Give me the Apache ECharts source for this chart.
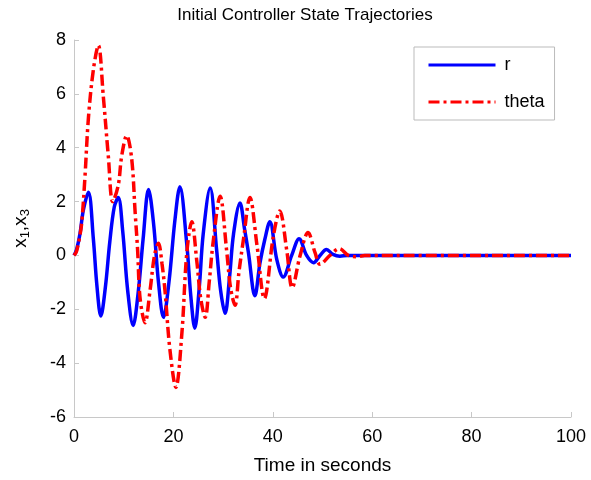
<!DOCTYPE html>
<html>
<head>
<meta charset="utf-8">
<script src="https://cdn.jsdelivr.net/npm/echarts@6/dist/echarts.min.js"></script>
<style>
    html,body{margin:0;padding:0;background:#fff;}
    #chart{width:591px;height:480px;}
</style>
</head>
<body>
<div id="chart"></div>
<script>
    // r trajectory (time, value)
    const rTime = [0,0.5,1.2,1.9,2.9,3.9,4.6,5.4,6.3,7.2,8.1,8.9,9.8,10.8,11.9,12.9,13.9,15.0,16.0,17.0,18.0,19.1,20.3,21.3,22.7,23.5,24.3,25.2,26.0,27.4,28.7,29.5,30.4,31.3,32.1,33.4,34.3,35.1,36.4,37.4,38.4,39.4,40.8,42.1,43.8,45.3,46.8,48.2,49.5,50.8,52.1,53.5,55,60,100]
    const rValue = [0,0.2,0.8,1.7,2.35,0.6,-1.1,-2.25,-1.2,0.5,1.8,2.15,0.9,-1.3,-2.6,-1.4,0.6,2.45,1.2,-1.0,-2.3,-1.0,1.3,2.55,0.4,-1.5,-2.7,-1.2,0.8,2.5,0.2,-1.3,-2.15,-0.8,0.8,1.95,1.0,0.1,-1.5,-0.3,0.6,1.25,-0.15,-0.8,0,0.62,0,-0.27,0,0.22,0.04,-0.03,0,0,0]
    // theta trajectory
    const thetaTime = [0,0.5,1.2,1.6,2.2,2.9,3.9,4.9,5.9,6.9,7.8,8.9,9.6,10.6,11.6,12.3,12.8,13.3,14.3,15.3,16.2,17.0,17.7,18.3,19.3,20.5,21.7,22.7,23.7,24.7,25.5,26.4,27.2,28.0,29.4,30.7,31.5,32.4,33.2,34.1,35.4,36.8,38.3,40.1,41.4,42.8,43.9,45.5,47.1,48.5,49.5,51.5,53.4,55.2,57,58.5,100]
    const thetaValue = [0,0.15,0.75,1.3,2.9,5.1,6.9,7.8,5.9,3.7,2.0,2.6,3.7,4.45,3.6,1.6,0.2,-1.6,-2.5,-1.3,0,0.45,-0.3,-1.3,-3.5,-4.9,-2.9,0.1,1.25,-0.2,-1.6,-2.3,-1.0,0.5,2.2,0.2,-1.2,-1.85,-0.6,0.6,2.15,0.4,-1.6,0.7,1.65,0.2,-1.2,0,0.85,0.1,-0.33,0,0.25,0,-0.05,0,0]

    const xTicks = [0,100,20]   // min, max, step
    const yTicks = [-6,8,2]

    const toPairs = (t,v) => t.map((x,i) => [x, v[i]])
    const font = 'Liberation Sans, Arial, sans-serif'

    const mychart = echarts.init(document.getElementById('chart'))
    mychart.setOption({
        animation:false,
        title:{
            text:'Initial Controller State Trajectories',
            left:300,
            top:2,
            textAlign:'center',
            textStyle:{color:'#000',fontSize:17,fontWeight:'normal',fontFamily:font}
        },
        grid:{left:74,right:20,top:40,bottom:63},
        legend:{
            orient:'vertical',
            left:414,
            top:47,
            padding:[9,10,9,13],
            itemWidth:67,
            itemHeight:14,
            itemGap:19,
            borderColor:'#bbb',
            borderWidth:1,
            backgroundColor:'#fff',
            itemStyle:{opacity:0},
            lineStyle:{width:3},
            textStyle:{color:'#000',fontSize:18,fontFamily:font,padding:[0,0,0,4]},
            data:['r','theta']
        },
        xAxis:{
            type:'value',
            min:xTicks[0],max:xTicks[1],interval:xTicks[2],
            name:'Time in seconds',
            nameLocation:'middle',
            nameGap:39,
            nameTextStyle:{color:'#000',fontSize:19,fontFamily:font},
            axisLine:{show:true,onZero:false,lineStyle:{color:'#c8c8c8',width:1}},
            axisTick:{show:true,inside:true,length:5,lineStyle:{color:'#c8c8c8'}},
            axisLabel:{color:'#000',fontSize:18,fontFamily:font,margin:11},
            splitLine:{show:false}
        },
        yAxis:{
            type:'value',
            min:yTicks[0],max:yTicks[1],interval:yTicks[2],
            name:'{a|x}{s|1}{a|,x}{s|3}',
            nameLocation:'middle',
            nameGap:42,
            nameRotate:90,
            nameTextStyle:{
                color:'#000',fontFamily:font,
                rich:{
                    a:{fontSize:19,fontFamily:font,color:'#000',verticalAlign:'middle'},
                    s:{fontSize:13,fontFamily:font,color:'#000',padding:[10,0,0,0]}
                }
            },
            axisLine:{show:true,lineStyle:{color:'#c8c8c8',width:1}},
            axisTick:{show:true,inside:true,length:5,lineStyle:{color:'#c8c8c8'}},
            axisLabel:{color:'#000',fontSize:18,fontFamily:font,margin:8},
            splitLine:{show:false}
        },
        series:[
            {
                name:'r',
                type:'line',
                data:toPairs(rTime,rValue),
                showSymbol:false,
                symbol:'none',
                smooth:0.35,
                lineStyle:{color:'#0000ff',width:3.5},
                itemStyle:{color:'#0000ff'}
            },
            {
                name:'theta',
                type:'line',
                data:toPairs(thetaTime,thetaValue),
                showSymbol:false,
                symbol:'none',
                smooth:0.35,
                lineStyle:{color:'#ff0000',width:3.5,type:[11,4,3,4]},
                itemStyle:{color:'#ff0000'}
            }
        ]
    })
</script>
</body>
</html>
